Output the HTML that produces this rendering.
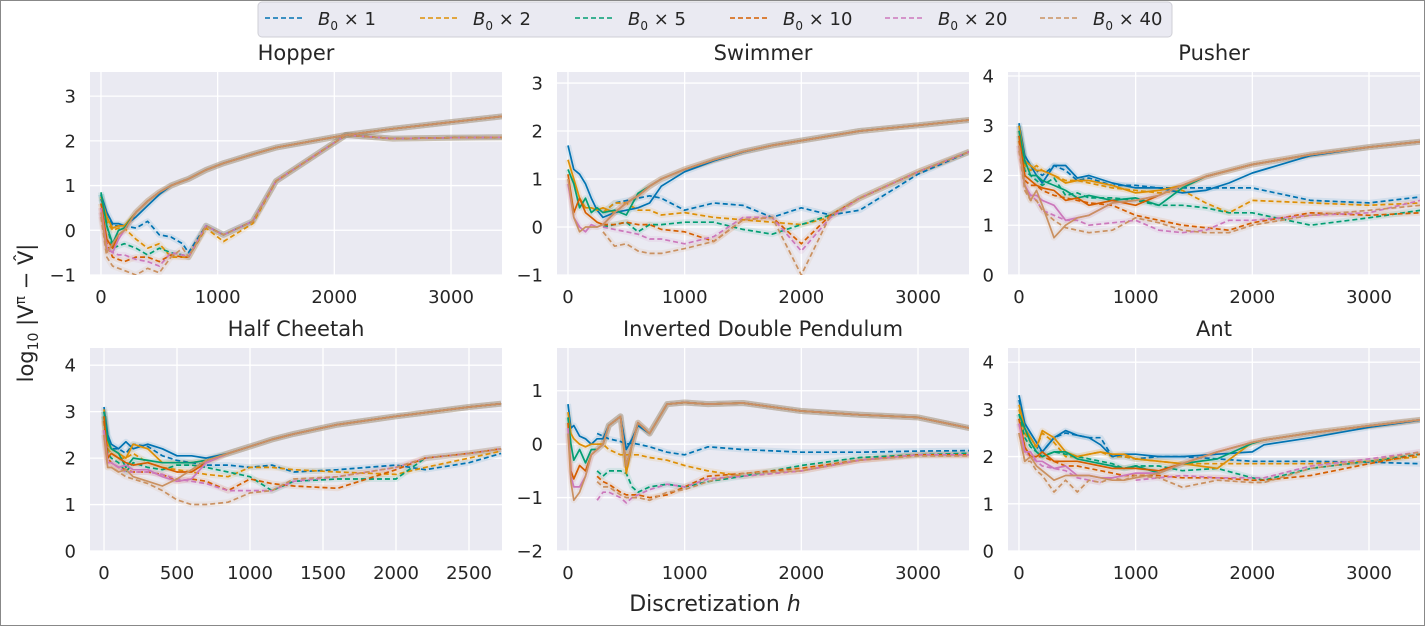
<!DOCTYPE html>
<html><head><meta charset="utf-8">
<style>
html,body{margin:0;padding:0;background:#fff;}
svg{display:block;font-family:"DejaVu Sans","Liberation Sans",sans-serif;}
</style></head>
<body>
<svg id="fig" width="1426" height="627" viewBox="0 0 1426 627" xmlns="http://www.w3.org/2000/svg">
<rect x="0.5" y="0.5" width="1424" height="625" fill="#fff" stroke="#888" stroke-width="1"/>
<g id="panels"></g>
<g>
<rect x="258" y="2" width="914" height="35" rx="4" fill="#eaeaf2" stroke="#cfcfd6"/>
<g id="legend-items"></g>
</g>
<text x="33" y="313" transform="rotate(-90 33 313)" text-anchor="middle" font-size="21" fill="#262626">log<tspan font-size="14" dy="5">10</tspan><tspan dy="-5"> |V</tspan><tspan font-size="14" dy="-8">π</tspan><tspan dy="8"> − V̂|</tspan></text>
<text x="715" y="611" text-anchor="middle" font-size="22" fill="#262626">Discretization <tspan font-style="italic">h</tspan></text>
</svg>
<script>
const colors = ['#0173b2','#de8f05','#029e73','#d55e00','#cc78bc','#ca9161'];
const legendLabels = ['1','2','5','10','20','40'];

// Hopper
const hopperX = [0,50,100,150,200,300,400,500,600,700,750,900,1050,1300,1500,2100,2500,3000,3440];
const hopperUpper = [0.4,0.65,0.85,1.0,1.1,1.15,1.35,1.5,1.7,1.85,2.13,2.27,2.42,2.55];
const hopperLower = [-0.5,0.1,-0.1,0.2,1.1,2.13,2.05,2.07,2.08];
const hopperSolid = [
 [0.8,0.4,0.15,0.15,0.1,0.3,0.55,0.8,1.0,1.1,1.15,1.35,1.5,1.7,1.85,2.13,2.27,2.42,2.55],
 [0.75,0.3,0.05,0.1,0.1].concat(hopperUpper),
 [0.85,0.1,-0.3,0.0,0.05].concat(hopperUpper),
 [0.6,-0.2,-0.4,-0.1,0.0].concat(hopperUpper),
 [0.5,-0.4,-0.5,-0.2,0.0].concat(hopperUpper),
 [0.4,-0.5,-0.3,-0.1,0.0].concat(hopperUpper)
];
const hopperDashed = [
 [0.7,0.3,0.1,0.1,0.1,0.05,0.2,-0.1,-0.15,-0.3].concat(hopperLower),
 [0.6,0.2,0.0,0.05,0.05,-0.2,-0.4,-0.3,-0.6,-0.6].concat([-0.6,0.05,-0.25,0.15,1.1,2.13,2.05,2.07,2.08]),
 [0.8,0.1,-0.4,-0.35,-0.3,-0.4,-0.55,-0.4,-0.5,-0.55].concat([-0.6,0.1,-0.1,0.2,1.1,2.13,2.05,2.07,2.08]),
 [0.5,-0.3,-0.6,-0.65,-0.7,-0.6,-0.6,-0.7,-0.55,-0.6].concat([-0.6,0.1,-0.1,0.2,1.1,2.13,2.05,2.07,2.08]),
 [0.4,-0.4,-0.5,-0.55,-0.55,-0.65,-0.7,-0.8,-0.5,-0.55].concat([-0.6,0.1,-0.1,0.2,1.1,2.13,2.05,2.07,2.08]),
 [0.3,-0.6,-0.8,-0.85,-0.9,-1.0,-0.85,-0.95,-0.6,-0.4].concat([-0.6,0.1,-0.1,0.2,1.1,2.13,2.05,2.07,2.08])
];

// Swimmer
const swimX = [0,50,100,150,200,250,300,400,500,600,700,800,1000,1250,1500,1750,2000,2250,2500,3000,3440];
const swimUpper = [0.3,0.5,0.65,0.85,1.0,1.2,1.4,1.57,1.7,1.8,1.9,2.0,2.12,2.23];
const swimSolid = [
 [1.7,1.2,1.1,0.9,0.6,0.35,0.2,0.3,0.35,0.4,0.5,0.85,1.15,1.38,1.56,1.7,1.8,1.9,2.0,2.12,2.23],
 [1.4,1.0,0.6,0.4,0.4,0.35,0.4].concat(swimUpper),
 [1.2,0.9,0.4,0.6,0.3,0.4,0.3,0.35,0.25,0.7,0.85,1.0,1.2,1.4,1.57,1.7,1.8,1.9,2.0,2.12,2.23],
 [1.1,0.3,0.6,0.3,0.2,0.1,0.05].concat(swimUpper),
 [0.9,0.2,0.0,-0.1,0.05,0.0,0.05].concat(swimUpper),
 [1.0,0.2,-0.1,0.0,0.0,0.0,0.05].concat(swimUpper)
];
const swimDashed = [
 [null,null,null,null,null,null,0.3,0.5,0.55,0.6,0.65,0.6,0.35,0.5,0.45,0.2,0.4,0.25,0.35,1.1,1.57],
 [null,null,null,null,null,null,0.3,0.5,0.5,0.35,0.35,0.25,0.3,0.2,0.15,0.1,0.05,0.2,0.6,1.15,1.57],
 [null,null,null,null,null,null,0.0,0.05,0.1,-0.1,0.05,0.05,0.1,0.1,-0.05,-0.15,0.05,0.25,0.6,1.15,1.57],
 [null,null,null,null,null,null,0.05,0.05,0.1,0.05,0.05,-0.05,-0.1,-0.3,0.15,0.2,-0.35,0.25,0.6,1.15,1.57],
 [null,null,null,null,null,null,0.0,-0.05,-0.1,-0.15,-0.25,-0.25,-0.35,-0.2,0.2,0.2,-0.5,0.2,0.6,1.15,1.57],
 [null,null,null,null,null,null,-0.1,-0.4,-0.35,-0.5,-0.55,-0.55,-0.45,-0.3,0.15,0.2,-1.0,0.25,0.6,1.15,1.57]
];

// Pusher
const pushX = [0,50,100,150,200,300,400,500,600,800,1000,1200,1400,1600,1800,2000,2500,3000,3440];
const pushUpper = [1.98,2.1,2.22,2.42,2.57,2.68];
const pushSolid = [
 [3.05,2.4,2.2,2.0,1.85,2.2,2.2,1.95,2.0,1.85,1.75,1.75,1.65,1.7,1.85,2.05,2.4,2.57,2.68],
 [3.0,2.3,2.2,2.1,2.1,2.0,1.85,1.9,1.9,1.8,1.65,1.7,1.8].concat(pushUpper),
 [2.9,2.3,2.0,2.0,1.9,1.8,1.7,1.55,1.6,1.5,1.55,1.4,1.75].concat(pushUpper),
 [2.8,2.0,1.9,1.8,1.75,1.7,1.5,1.55,1.4,1.5,1.4,1.6,1.8].concat(pushUpper),
 [2.6,1.8,1.6,1.6,1.5,1.4,1.1,1.15,1.2,1.45,1.5,1.6,1.8].concat(pushUpper),
 [2.6,1.8,1.5,1.7,1.4,0.75,1.0,1.15,1.2,1.45,1.5,1.6,1.8].concat(pushUpper)
];
const pushDashed = [
 [3.0,2.3,2.2,2.1,2.0,2.2,2.1,1.9,1.95,1.8,1.8,1.75,1.75,1.75,1.75,1.75,1.5,1.45,1.57],
 [2.9,2.2,2.1,2.2,2.1,2.0,1.9,1.9,1.85,1.75,1.7,1.65,1.7,1.45,1.25,1.5,1.45,1.4,1.45],
 [2.8,2.1,2.0,1.9,1.8,1.95,1.6,1.65,1.55,1.55,1.5,1.4,1.4,1.35,1.25,1.25,1.0,1.15,1.3],
 [2.7,1.9,1.8,1.8,1.7,1.6,1.55,1.5,1.45,1.4,1.2,1.1,1.0,0.95,0.9,1.05,1.25,1.2,1.25],
 [2.6,1.8,1.6,1.5,1.3,1.2,1.1,1.1,1.0,1.05,1.1,0.9,0.85,0.9,1.1,1.1,1.2,1.25,1.5],
 [2.5,1.7,1.5,1.5,1.3,1.1,0.95,0.9,0.85,0.9,1.15,1.05,0.9,0.85,0.85,1.0,1.2,1.3,1.4]
];

// Half Cheetah
const cheetahX = [0,25,50,100,150,200,300,400,500,600,700,850,1000,1150,1300,1600,2000,2200,2500,2720];
const cheetahUpper = [2.1,2.25,2.4,2.52,2.72,2.9,2.98,3.1,3.17];
const cheetahSolid = [
 [3.1,2.5,2.3,2.2,2.35,2.2,2.3,2.2,2.05,2.05,2.0].concat(cheetahUpper),
 [3.05,2.3,2.2,2.1,2.0,2.3,2.2,1.9,1.9,1.9,1.95].concat(cheetahUpper),
 [3.0,2.4,2.2,2.1,1.8,2.0,1.95,1.9,1.9,1.9,1.95].concat(cheetahUpper),
 [2.9,2.0,2.1,2.0,1.9,1.85,1.9,1.8,1.7,1.7,1.9].concat(cheetahUpper),
 [2.6,1.9,1.9,1.8,1.85,1.75,1.75,1.6,1.5,1.55,1.9].concat(cheetahUpper),
 [2.5,1.8,1.8,1.7,1.75,1.6,1.5,1.4,1.55,1.75,1.95].concat(cheetahUpper)
];
const cheetahDashed = [
 [3.0,2.3,2.2,2.2,2.1,2.3,2.25,2.05,1.95,1.9,1.85,1.85,1.8,1.85,1.7,1.75,1.85,1.75,1.9,2.1],
 [2.9,2.2,2.1,2.0,2.0,2.1,1.9,1.8,1.75,1.7,1.65,1.6,1.8,1.8,1.75,1.7,1.65,1.8,2.0,2.15],
 [2.9,2.1,2.0,1.9,1.7,1.9,1.8,1.75,1.85,1.85,1.8,1.7,1.6,1.3,1.5,1.55,1.55,2.0,2.1,2.2],
 [2.8,2.0,1.9,1.8,1.75,1.7,1.7,1.65,1.5,1.55,1.5,1.3,1.55,1.45,1.4,1.35,1.75,2.0,2.1,2.2],
 [2.6,1.9,1.9,1.8,1.7,1.7,1.7,1.65,1.55,1.5,1.45,1.3,1.3,1.3,1.5,1.6,1.8,2.0,2.1,2.2],
 [2.5,1.8,1.8,1.7,1.6,1.55,1.45,1.3,1.1,1.0,1.0,1.05,1.25,1.3,1.55,1.6,1.8,2.0,2.1,2.2]
];

// Inverted Double Pendulum
const idpX = [0,25,50,100,150,200,250,300,350,450,500,550,600,700,850,1000,1200,1500,2000,2500,3000,3440];
const idpUpper = [0.35,0.52,-0.4,0.0,0.4,0.2,0.75,0.78,0.75,0.77,0.62,0.55,0.5,0.3];
const idpSolid = [
 [0.75,0.3,0.35,0.15,0.1,0.0,0.1,0.1,0.35,0.52,-0.1,0.1,0.35,0.2,0.75,0.78,0.75,0.77,0.62,0.55,0.5,0.3],
 [0.6,0.2,0.1,0.0,-0.05,0.0,0.0,0.0,0.35,0.52,-0.55,0.0,0.4,0.2,0.75,0.78,0.75,0.77,0.62,0.55,0.5,0.3],
 [0.5,0.0,-0.3,-0.1,-0.35,-0.1,-0.1,0.0].concat(idpUpper),
 [0.4,-0.5,-0.65,-0.4,-0.5,-0.2,-0.1,0.0].concat(idpUpper),
 [0.3,-0.6,-0.8,-0.8,-0.6,-0.2,-0.1,0.0].concat(idpUpper),
 [0.2,-0.7,-1.05,-0.9,-0.6,-0.2,-0.1,0.0].concat(idpUpper)
];
const idpDashed = [
 [null,null,null,null,null,null,0.2,0.15,0.1,0.05,0.0,0.02,0.0,-0.05,-0.15,-0.2,-0.05,-0.1,-0.15,-0.15,-0.13,-0.12],
 [null,null,null,null,null,null,0.0,0.0,-0.1,-0.2,-0.2,-0.2,-0.2,-0.25,-0.3,-0.4,-0.5,-0.6,-0.5,-0.3,-0.2,-0.2],
 [null,null,null,null,null,null,-0.5,-0.6,-0.5,-0.5,-0.55,-0.8,-0.9,-0.8,-0.75,-0.8,-0.7,-0.6,-0.4,-0.25,-0.2,-0.17],
 [null,null,null,null,null,null,-0.6,-0.7,-0.75,-0.9,-0.95,-0.95,-0.95,-1.0,-0.95,-0.8,-0.6,-0.55,-0.45,-0.3,-0.2,-0.2],
 [null,null,null,null,null,null,-1.05,-0.9,-0.9,-1.0,-1.1,-1.0,-0.95,-0.85,-0.75,-0.8,-0.65,-0.6,-0.5,-0.3,-0.2,-0.2],
 [null,null,null,null,null,null,-0.7,-0.8,-0.8,-0.95,-1.0,-1.0,-1.0,-1.05,-0.9,-0.85,-0.7,-0.55,-0.5,-0.3,-0.22,-0.22]
];

// Ant
const antX = [0,50,100,150,200,300,400,500,600,700,800,900,1000,1200,1400,1700,2000,2100,2500,3000,3440];
const antUpper = [1.85,2.1,2.3,2.35,2.5,2.65,2.78];
const antSolid = [
 [3.3,2.7,2.5,2.3,2.1,2.4,2.55,2.45,2.4,2.25,2.0,2.05,2.05,2.0,2.0,2.05,2.1,2.25,2.4,2.62,2.77],
 [3.1,2.6,2.4,2.2,2.55,2.4,2.1,2.0,2.05,2.1,2.05,2.05,1.95,1.9,1.85,1.75,2.3,2.35,2.5,2.65,2.78],
 [2.9,2.6,2.3,2.1,2.0,2.1,2.1,1.95,1.9,1.85,1.8,1.75,1.8,1.65,1.85,1.95,2.28,2.35,2.5,2.65,2.78],
 [2.8,2.2,2.0,2.0,2.1,1.9,1.9,1.9,1.85,1.8,1.75,1.75,1.75,1.7].concat(antUpper),
 [2.7,2.1,2.1,1.9,1.9,1.75,1.8,1.6,1.6,1.55,1.55,1.6,1.65,1.65].concat(antUpper),
 [2.5,1.9,2.0,1.8,1.7,1.5,1.6,1.6,1.6,1.55,1.5,1.5,1.55,1.65].concat(antUpper)
];
const antDashed = [
 [3.2,2.6,2.4,2.2,2.1,2.4,2.5,2.45,2.4,2.4,2.0,2.0,1.95,2.0,2.0,1.95,1.9,1.9,1.9,1.88,1.85],
 [3.0,2.5,2.3,2.2,2.5,2.3,2.0,2.0,2.05,2.1,2.0,2.0,1.95,1.9,1.85,1.85,1.85,1.85,1.85,1.9,2.0],
 [2.9,2.4,2.2,2.1,2.0,2.1,2.05,2.0,1.95,1.9,1.85,1.75,1.8,1.8,1.7,1.75,1.55,1.5,1.75,1.9,2.05],
 [2.8,2.2,2.0,2.0,2.0,1.9,1.8,1.8,1.75,1.7,1.65,1.6,1.6,1.6,1.55,1.55,1.5,1.5,1.6,1.85,2.05],
 [2.7,2.1,2.0,1.9,1.8,1.75,1.7,1.55,1.5,1.45,null,null,1.5,1.55,1.6,1.55,1.55,1.55,1.8,1.95,2.1],
 [2.5,1.9,1.9,1.7,1.6,1.25,1.5,1.25,1.5,1.45,1.55,1.5,1.6,1.55,1.35,1.5,1.45,1.45,1.75,1.9,2.1]
];

const panels = [
 {name:'hopper', title:'Hopper', box:[90,72,502,275], xlim:[-94,3437], ylim:[-1,3.54], xticks:[0,1000,2000,3000], yticks:[-1,0,1,2,3], x:hopperX, solid:hopperSolid, dashed:hopperDashed},
 {name:'swimmer', title:'Swimmer', box:[557,72,969,275], xlim:[-94,3437], ylim:[-1,3.23], xticks:[0,1000,2000,3000], yticks:[-1,0,1,2,3], x:swimX, solid:swimSolid, dashed:swimDashed},
 {name:'pusher', title:'Pusher', box:[1008,72,1420,275], xlim:[-94,3437], ylim:[0,4.08], xticks:[0,1000,2000,3000], yticks:[0,1,2,3,4], x:pushX, solid:pushSolid, dashed:pushDashed},
 {name:'half-cheetah', title:'Half Cheetah', box:[90,348,502,551], xlim:[-96,2726], ylim:[0,4.37], xticks:[0,500,1000,1500,2000,2500], yticks:[0,1,2,3,4], x:cheetahX, solid:cheetahSolid, dashed:cheetahDashed},
 {name:'inverted-double-pendulum', title:'Inverted Double Pendulum', box:[557,348,969,551], xlim:[-94,3437], ylim:[-2,1.8], xticks:[0,1000,2000,3000], yticks:[-2,-1,0,1], x:idpX, solid:idpSolid, dashed:idpDashed},
 {name:'ant', title:'Ant', box:[1008,348,1420,551], xlim:[-94,3437], ylim:[0,4.3], xticks:[0,1000,2000,3000], yticks:[0,1,2,3,4], x:antX, solid:antSolid, dashed:antDashed}
];

const NS='http://www.w3.org/2000/svg';
function mk(tag, attrs, parent){const e=document.createElementNS(NS,tag);for(const k in attrs)e.setAttribute(k,attrs[k]);if(parent)parent.appendChild(e);return e;}
function fmt(v){return v<0?'\u2212'+Math.abs(v):String(v);}

const root=document.getElementById('panels');
panels.forEach(p=>{
 const [x0,y0,x1,y1]=p.box;
 const sx=v=>x0+(v-p.xlim[0])/(p.xlim[1]-p.xlim[0])*(x1-x0);
 const sy=v=>y1-(v-p.ylim[0])/(p.ylim[1]-p.ylim[0])*(y1-y0);
 const g=mk('g',{},root);
 
 
 const bg=mk('rect',{x:x0,y:y0,width:x1-x0,height:y1-y0,fill:'#eaeaf2'},g);
 
 
 p.xticks.forEach(t=>{
  const gl=mk('line',{x1:sx(t),x2:sx(t),y1:y0,y2:y1,stroke:'#fff','stroke-width':1.3},g);
  
  
  const tl=mk('text',{x:sx(t),y:y1+28,'text-anchor':'middle','font-size':18,fill:'#262626'},g);
  tl.textContent=fmt(t);
  
  
 });
 p.yticks.forEach(t=>{
  const gl=mk('line',{x1:x0,x2:x1,y1:sy(t),y2:sy(t),stroke:'#fff','stroke-width':1.3},g);
  
  
  const tl=mk('text',{x:x0-14,y:sy(t)+6.5,'text-anchor':'end','font-size':18,fill:'#262626'},g);
  tl.textContent=fmt(t);
  
  
 });
 const tt=mk('text',{x:(x0+x1)/2,y:y0-12,'text-anchor':'middle','font-size':21,fill:'#262626'},g);
 tt.textContent=p.title;
 
 
 const clipId='clip-'+p.name;
 const cp=mk('clipPath',{id:clipId},g); mk('rect',{x:x0,y:y0,width:x1-x0,height:y1-y0},cp);
 const lg=mk('g',{'clip-path':'url(#'+clipId+')'},g);
 function pathFor(ys){let d='',pen=false;ys.forEach((v,i)=>{if(v===null){pen=false;return;}d+=(pen?'L':'M')+sx(p.x[i]).toFixed(1)+' '+sy(v).toFixed(1);pen=true;});return d;}
 const order=[0,1,2,3,4,5];
 [['dashed',p.dashed],['solid',p.solid]].forEach(([kind,arr])=>{
  order.forEach(ci=>{
   const d=pathFor(arr[ci]);
   const band=mk('path',{d:d,fill:'none',stroke:colors[ci],'stroke-width':6,'stroke-opacity':0.1,'stroke-linejoin':'round'},lg);
   
   
  });
 });
 [['dashed',p.dashed],['solid',p.solid]].forEach(([kind,arr])=>{
  order.forEach(ci=>{
   const d=pathFor(arr[ci]);
   const ln=mk('path',{d:d,fill:'none',stroke:colors[ci],'stroke-width':1.7,'stroke-linejoin':'round'},lg);
   if(kind==='dashed')ln.setAttribute('stroke-dasharray','5,3');
   
   
  });
 });
});

const leg=document.getElementById('legend-items');
legendLabels.forEach((lab,i)=>{
 const bx=265+i*155;
 const g=mk('g',{},leg);
 
 
 mk('line',{x1:bx,x2:bx+38,y1:18,y2:18,stroke:colors[i],'stroke-width':1.6,'stroke-dasharray':'5,3'},g);
 const t=mk('text',{x:bx+53,y:25,'font-size':18,fill:'#262626'},g);
 t.innerHTML='<tspan font-style="italic">B</tspan><tspan font-size="12" dy="5">0</tspan><tspan dy="-5"> × '+lab+'</tspan>';
});
</script>
</body></html>
